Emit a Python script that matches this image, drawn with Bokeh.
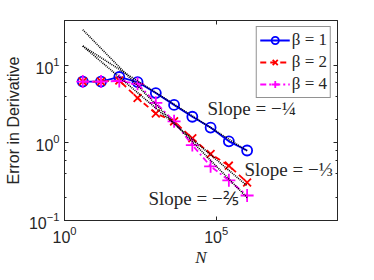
from bokeh.plotting import figure
from bokeh.models import LogAxis, FixedTicker, Label, Legend, LegendItem, Range1d, LogTicker, CustomJSTickFormatter
from bokeh.embed import file_html
from bokeh.resources import INLINE

N = [4, 16, 64, 256, 1024, 4096, 16384, 65536, 262144, 1048576]
err_beta1 = [6.2, 6.2, 7.1, 6.1, 4.4, 3.1, 2.18, 1.58, 1.05, 0.80]
err_beta2 = [6.2, 6.2, 6.4, 3.8, 2.4, 1.9, 1.15, 0.72, 0.51, 0.31]
err_beta4 = [6.2, 6.2, 6.3, 5.8, 3.3, 1.9, 0.94, 0.50, 0.33, 0.21]
guide_N = [4, 1048576]
guide_quarter = [17.8, 0.79]
guide_third = [17.8, 0.28]
guide_twofifths = [28.9, 0.197]
x_ticks = [1, 1e5]

AX = "#262626"
SERIF = "'Liberation Serif'"
SANS = "'Liberation Sans'"
p = figure(width=362, height=264, x_axis_type="log", y_axis_type="log",
           x_range=Range1d(1, 1e9), y_range=Range1d(0.1, 38),
           output_backend="svg", toolbar_location=None,
           min_border_left=64, min_border_top=20, min_border_right=17, min_border_bottom=40)
p.frame_width = 273
p.frame_height = 200
p.xgrid.visible = False
p.ygrid.visible = False
p.outline_line_color = AX
p.outline_line_width = 1
p.background_fill_color = "white"
p.border_fill_color = "white"

def style(ax, labels=True):
    ax.axis_line_color = AX
    ax.major_tick_in = 4
    ax.major_tick_out = 0
    ax.minor_tick_in = 2
    ax.minor_tick_out = 0
    ax.major_tick_line_color = AX
    ax.minor_tick_line_color = AX
    ax.major_label_text_font = SANS
    ax.major_label_text_font_size = "16px"
    ax.major_label_text_color = "#262626"
    if not labels:
        ax.formatter = CustomJSTickFormatter(code="return ' ';")
        ax.major_label_standoff = 0

p.xaxis.ticker = FixedTicker(ticks=x_ticks, minor_ticks=[])
p.yaxis.ticker = LogTicker(desired_num_ticks=3)
for a in p.xaxis + p.yaxis:
    style(a)
p.xaxis.axis_label = "N"
p.xaxis.axis_label_text_font = SERIF
p.xaxis.axis_label_text_font_style = "italic"
p.xaxis.axis_label_text_font_size = "17px"
p.xaxis.axis_label_text_color = "#262626"
p.xaxis.axis_label_standoff = 2
p.yaxis.axis_label = "Error in Derivative"
p.yaxis.axis_label_text_font = SANS
p.yaxis.axis_label_text_font_style = "normal"
p.yaxis.axis_label_text_font_size = "16px"
p.yaxis.axis_label_text_color = "#262626"
p.yaxis.axis_label_standoff = 4

top = LogAxis(ticker=FixedTicker(ticks=x_ticks, minor_ticks=[]))
right = LogAxis(ticker=LogTicker(desired_num_ticks=3))
style(top, False)
style(right, False)
p.add_layout(top, "above")
p.add_layout(right, "right")

r1l = p.line(N, err_beta1, line_color="blue", line_width=1.8)
r1m = p.scatter(N, err_beta1, marker="circle", size=10, fill_color=None, line_color="blue", line_width=1.8)
r2l = p.line(N, err_beta2, line_color="red", line_width=1.8, line_dash="6 4")
r2m = p.scatter(N, err_beta2, marker="x", size=11, line_color="red", line_width=1.8)
r4l = p.line(N, err_beta4, line_color="magenta", line_width=1.8, line_dash="6 3 2 3")
r4m = p.scatter(N, err_beta4, marker="cross", size=13, line_color="magenta", line_width=1.8)

for g in (guide_quarter, guide_third, guide_twofifths):
    p.line(guide_N, g, line_color="black", line_width=1.6, line_dash="1 1")

legend = Legend(items=[
    LegendItem(label="β = 1", renderers=[r1l, r1m]),
    LegendItem(label="β = 2", renderers=[r2l, r2m]),
    LegendItem(label="β = 4", renderers=[r4l, r4m]),
], location="top_right")
legend.label_text_font = "Liberation Serif"
legend.label_text_font_size = "17px"
legend.label_text_font_style = "normal"
legend.label_text_color = "#262626"
legend.border_line_color = AX
legend.border_line_width = 1
legend.glyph_width = 30
legend.glyph_height = 18
legend.label_height = 18
legend.spacing = 2
legend.padding = 3
legend.margin = 6
legend.label_standoff = 2
p.add_layout(legend)

def lab(x, y, t):
    p.add_layout(Label(x=x, y=y, x_units="screen", y_units="screen", text=t,
                       text_font=SERIF, text_font_size="19px",
                       text_color="#262626", text_baseline="middle"))

lab(143, 112, "Slope = −¼")
lab(180, 51, "Slope = −⅓")
lab(84, 22, "Slope = −⅖")

open("out.html", "w").write(file_html(p, INLINE))
